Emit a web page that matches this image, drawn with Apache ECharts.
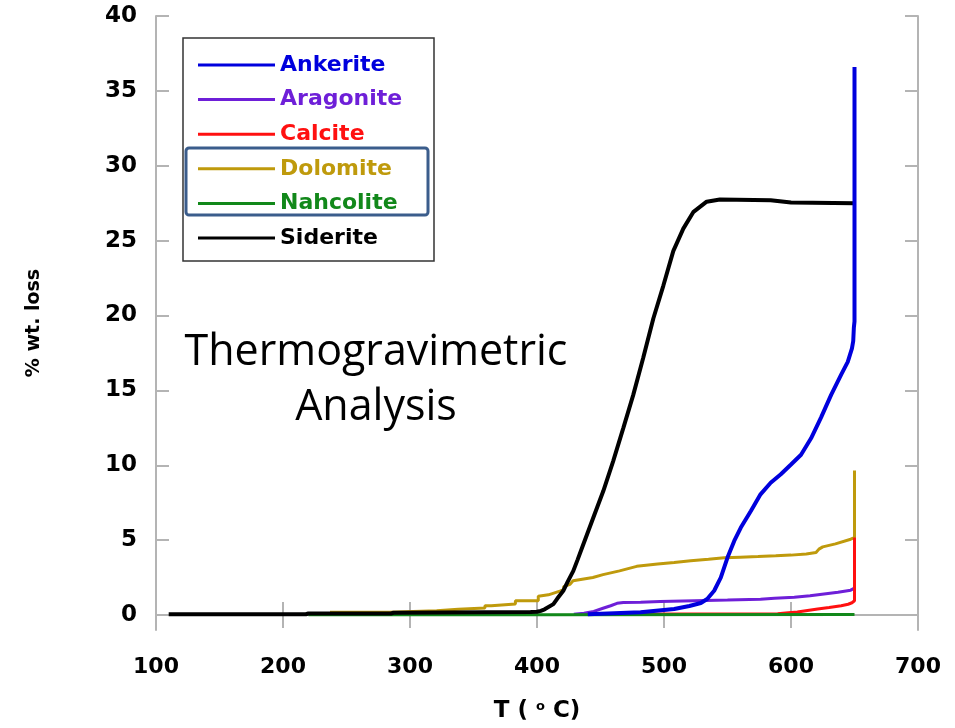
<!DOCTYPE html>
<html>
<head>
<meta charset="utf-8">
<script src="https://cdn.jsdelivr.net/npm/echarts@6/dist/echarts.min.js"></script>
<style>
html,body{margin:0;padding:0;background:#fff;}
#chart{width:955px;height:728px;}
</style>
</head>
<body>
<div id="chart"></div>
<script>
// ---- data (T in °C, % wt. loss) ----
const seriesNames = ['Ankerite', 'Aragonite', 'Calcite', 'Dolomite', 'Nahcolite', 'Siderite'];
const xTicks = [100, 200, 300, 400, 500, 600, 700];
const yTicks = [0, 5, 10, 15, 20, 25, 30, 35, 40];

const ankerite = [[440,0.05],[481.6,0.18],[508,0.4],[520,0.6],[529,0.8],[534,1.07],[539.5,1.62],[544.7,2.5],[550,3.84],[555.3,4.95],[560.5,5.84],[568.4,6.95],[576,8.06],[584,8.83],[592,9.4],[600,10.05],[607.9,10.7],[615.8,11.8],[623.7,13.2],[631.6,14.7],[639.5,16.05],[644.7,16.9],[648,17.8],[649,18.3],[649.5,19.2],[650,19.6],[650,36.6]];
const aragonite = [[429,0.05],[437,0.12],[444.7,0.24],[452,0.45],[458,0.62],[463,0.78],[468,0.84],[481.6,0.85],[497,0.9],[524,0.95],[550,1.0],[576,1.06],[587,1.12],[602.6,1.18],[615,1.28],[626,1.4],[637,1.52],[647,1.66],[650,1.8]];
const calcite = [[442,0.05],[589.5,0.08],[598,0.15],[605,0.2],[613,0.3],[621,0.4],[630,0.5],[639.5,0.62],[645,0.72],[648,0.82],[650,0.95],[650,5.17]];
const dolomite = [[237,0.18],[284,0.18],[284,0.29],[321,0.29],[321,0.38],[338,0.38],[338,0.47],[359,0.47],[359,0.62],[364,0.62],[364,0.73],[383,0.73],[383,0.95],[401,0.95],[401,1.25],[409,1.35],[418,1.6],[421,1.7],[421,1.9],[426,2.05],[428.4,2.29],[444,2.51],[452,2.7],[465,2.95],[478.5,3.25],[495,3.4],[508,3.5],[521,3.62],[535,3.72],[547.4,3.82],[560,3.86],[574,3.9],[588,3.95],[600,4.0],[612,4.08],[619.7,4.17],[622,4.4],[625,4.55],[635,4.75],[647,5.06],[650,5.17],[650,9.65]];
const nahcolite = [[220,0.02],[400,0.02],[650,0.03]];
const siderite = [[110,0.05],[218,0.05],[220,0.1],[285,0.1],[287,0.15],[395,0.2],[400,0.22],[403,0.28],[406,0.38],[412.9,0.73],[416,1.1],[420.7,1.62],[424,2.2],[428.6,2.95],[432,3.7],[436.5,4.73],[444.3,6.5],[452.2,8.28],[460,10.28],[468,12.5],[475.8,14.7],[483.7,17.2],[491.6,19.8],[499.5,22.0],[507.3,24.3],[515.2,25.8],[523,26.9],[533.6,27.6],[544,27.75],[584,27.7],[600,27.55],[650,27.5]];

const colors = {
  Ankerite: '#0000dd',
  Aragonite: '#6e1fd8',
  Calcite: '#ff1010',
  Dolomite: '#bf9a0c',
  Nahcolite: '#12881a',
  Siderite: '#000000'
};

const chart = echarts.init(document.getElementById('chart'), null, {renderer: 'canvas'});

const frameColor = '#b4b4b4';
const labelFont = {fontFamily: 'DejaVu Sans', fontWeight: 'bold', color: '#000'};

function mkSeries(name, data, width) {
  return {
    name: name, type: 'line', data: data, symbol: 'none', showSymbol: false,
    xAxisIndex: 0, yAxisIndex: 0,
    lineStyle: {color: colors[name], width: width},
    itemStyle: {color: colors[name]},
    emphasis: {disabled: true},
    animation: false
  };
}

const option = {
  animation: false,
  backgroundColor: '#fff',
  grid: {left: 156, right: 37, top: 16, bottom: 96, containLabel: false},
  xAxis: [
    {
      type: 'value', position: 'bottom', min: 100, max: 700, interval: 100,
      axisLine: {show: true, lineStyle: {color: frameColor, width: 2}},
      axisTick: {show: true, inside: true, length: 13, lineStyle: {color: frameColor, width: 2}},
      splitLine: {show: false},
      axisLabel: Object.assign({fontSize: 22, margin: 26}, labelFont),
      name: 'T ( {sup|o} C)',
      nameLocation: 'middle',
      nameGap: 70,
      nameTextStyle: Object.assign({fontSize: 23, rich: {sup: {fontSize: 13, fontWeight: 'bold', fontFamily: 'DejaVu Sans', verticalAlign: 'top', lineHeight: 22}}}, labelFont)
    },
    {
      type: 'value', position: 'top', min: 100, max: 700, interval: 100,
      axisLine: {show: true, lineStyle: {color: frameColor, width: 2}},
      axisTick: {show: true, inside: true, length: 13, lineStyle: {color: frameColor, width: 2}},
      splitLine: {show: false},
      axisLabel: {show: false}
    }
  ],
  yAxis: [
    {
      type: 'value', position: 'left', min: -1, max: 40,
      axisLine: {show: true, lineStyle: {color: frameColor, width: 2}},
      axisTick: {show: true, inside: true, length: 13, customValues: yTicks, lineStyle: {color: frameColor, width: 2}},
      splitLine: {show: false},
      axisLabel: Object.assign({fontSize: 23, margin: 19, customValues: yTicks}, labelFont),
      name: '% wt. loss',
      nameLocation: 'middle',
      nameGap: 112,
      nameRotate: 90,
      nameTextStyle: Object.assign({fontSize: 19}, labelFont)
    },
    {
      type: 'value', position: 'right', min: -1, max: 40,
      axisLine: {show: true, lineStyle: {color: frameColor, width: 2}},
      axisTick: {show: true, inside: true, length: 13, customValues: yTicks, lineStyle: {color: frameColor, width: 2}},
      splitLine: {show: false},
      axisLabel: {show: false, customValues: yTicks}
    }
  ],
  legend: {
    orient: 'vertical',
    left: 198, top: 52,
    padding: 0,
    itemGap: 8.6,
    itemWidth: 77, itemHeight: 3,
    icon: 'rect',
    selectedMode: false,
    textStyle: {fontFamily: 'DejaVu Sans', fontWeight: 'bold', fontSize: 22, lineHeight: 26},
    data: seriesNames.map(n => ({name: n, textStyle: {color: colors[n]}}))
  },
  graphic: [
    {
      type: 'rect', z: 3,
      shape: {x: 183, y: 38, width: 251, height: 223},
      style: {fill: '#fff', stroke: '#333', lineWidth: 1.5}
    },
    {
      type: 'rect', z: 10,
      shape: {x: 186, y: 148, width: 242, height: 67, r: 3},
      style: {fill: 'none', stroke: '#3b5d8c', lineWidth: 3}
    },
    {
      type: 'text', z: 10,
      x: 376, y: 380,
      style: {
        text: 'Thermogravimetric\nAnalysis',
        fontFamily: 'Open Sans', fontSize: 43, fill: '#000',
        align: 'center', verticalAlign: 'middle', lineHeight: 55
      }
    }
  ],
  series: [
    mkSeries('Dolomite', dolomite, 3),
    mkSeries('Aragonite', aragonite, 3),
    mkSeries('Calcite', calcite, 3),
    mkSeries('Nahcolite', nahcolite, 3),
    mkSeries('Siderite', siderite, 4),
    mkSeries('Ankerite', ankerite, 4)
  ]
};

chart.setOption(option);
</script>
</body>
</html>
